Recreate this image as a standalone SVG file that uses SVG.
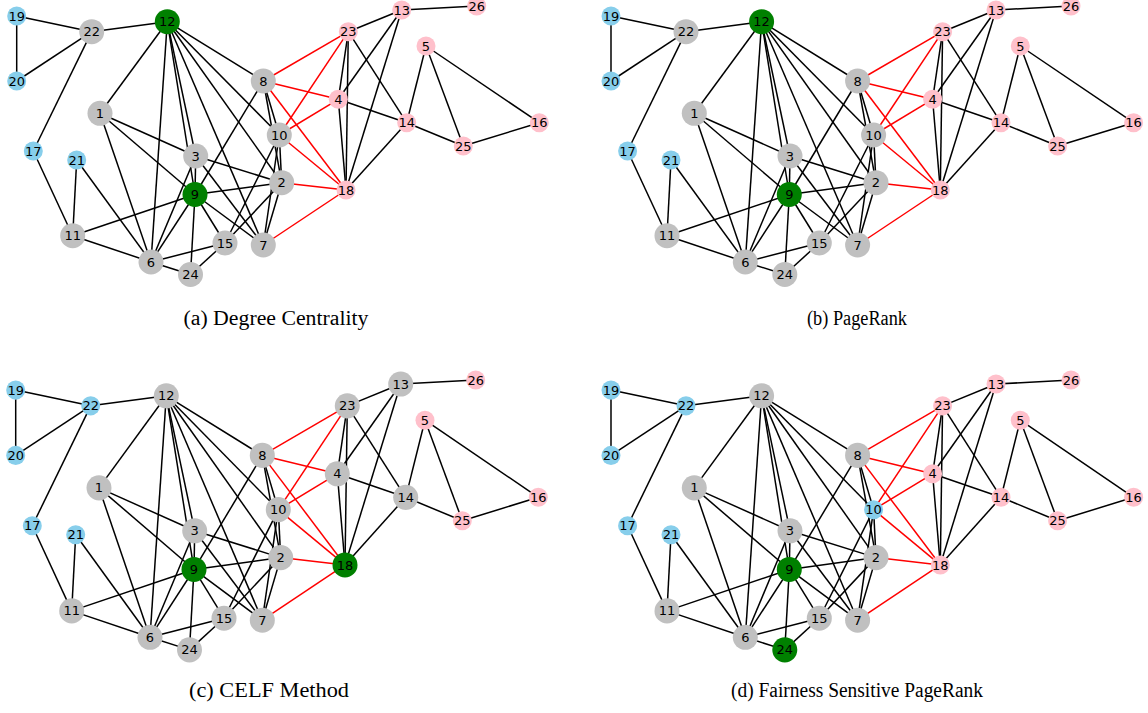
<svg xmlns="http://www.w3.org/2000/svg" width="1148" height="713" viewBox="0 0 1148 713">
<style>
#edgeset line{stroke:#000;stroke-width:1.5;fill:none}
#edgeset line.r{stroke:#ff0000}
.g{fill:#c0c0c0}.gr{fill:#008000}.b{fill:#87ceeb}.p{fill:#ffc0cb}
.n text{font-family:"DejaVu Sans",sans-serif;font-size:13px;fill:#000;text-anchor:middle}
.cap{font-family:"Liberation Serif",serif;font-size:20px;fill:#000;text-anchor:middle}
</style>
<rect width="1148" height="713" fill="#fff"/>
<defs>
<g id="edgeset">
<line x1="16.7" y1="16" x2="16.7" y2="81"/>
<line x1="16.7" y1="16" x2="91.7" y2="31.7"/>
<line x1="16.7" y1="81" x2="91.7" y2="31.7"/>
<line x1="91.7" y1="31.7" x2="167.3" y2="21.7"/>
<line x1="91.7" y1="31.7" x2="33.3" y2="151"/>
<line x1="33.3" y1="151" x2="72.7" y2="235.7"/>
<line x1="76.7" y1="160" x2="72.7" y2="235.7"/>
<line x1="76.7" y1="160" x2="151" y2="262"/>
<line x1="167.3" y1="21.7" x2="100" y2="113.3"/>
<line x1="167.3" y1="21.7" x2="151" y2="262"/>
<line x1="167.3" y1="21.7" x2="195.7" y2="156"/>
<line x1="167.3" y1="21.7" x2="195" y2="194.5"/>
<line x1="167.3" y1="21.7" x2="263.3" y2="245"/>
<line x1="167.3" y1="21.7" x2="281.7" y2="182.7"/>
<line x1="167.3" y1="21.7" x2="279.3" y2="135"/>
<line x1="167.3" y1="21.7" x2="263.3" y2="81"/>
<line x1="100" y1="113.3" x2="195.7" y2="156"/>
<line x1="100" y1="113.3" x2="195" y2="194.5"/>
<line x1="100" y1="113.3" x2="151" y2="262"/>
<line x1="195.7" y1="156" x2="195" y2="194.5"/>
<line x1="195.7" y1="156" x2="281.7" y2="182.7"/>
<line x1="195.7" y1="156" x2="263.3" y2="245"/>
<line x1="195.7" y1="156" x2="151" y2="262"/>
<line x1="195" y1="194.5" x2="72.7" y2="235.7"/>
<line x1="195" y1="194.5" x2="151" y2="262"/>
<line x1="195" y1="194.5" x2="190.5" y2="274.5"/>
<line x1="195" y1="194.5" x2="225" y2="243"/>
<line x1="195" y1="194.5" x2="263.3" y2="245"/>
<line x1="195" y1="194.5" x2="281.7" y2="182.7"/>
<line x1="195" y1="194.5" x2="263.3" y2="81"/>
<line x1="72.7" y1="235.7" x2="151" y2="262"/>
<line x1="151" y1="262" x2="225" y2="243"/>
<line x1="151" y1="262" x2="190.5" y2="274.5"/>
<line x1="225" y1="243" x2="190.5" y2="274.5"/>
<line x1="225" y1="243" x2="279.3" y2="135"/>
<line x1="225" y1="243" x2="281.7" y2="182.7"/>
<line x1="263.3" y1="245" x2="281.7" y2="182.7"/>
<line x1="263.3" y1="245" x2="279.3" y2="135"/>
<line x1="281.7" y1="182.7" x2="279.3" y2="135"/>
<line x1="281.7" y1="182.7" x2="263.3" y2="81"/>
<line x1="279.3" y1="135" x2="263.3" y2="81"/>
<line x1="348.3" y1="31.7" x2="401.7" y2="10"/>
<line x1="348.3" y1="31.7" x2="338.3" y2="99.3"/>
<line x1="348.3" y1="31.7" x2="346" y2="190"/>
<line x1="348.3" y1="31.7" x2="406.7" y2="122.7"/>
<line x1="401.7" y1="10" x2="476.7" y2="6"/>
<line x1="401.7" y1="10" x2="338.3" y2="99.3"/>
<line x1="401.7" y1="10" x2="346" y2="190"/>
<line x1="338.3" y1="99.3" x2="406.7" y2="122.7"/>
<line x1="338.3" y1="99.3" x2="346" y2="190"/>
<line x1="406.7" y1="122.7" x2="346" y2="190"/>
<line x1="406.7" y1="122.7" x2="426" y2="46"/>
<line x1="406.7" y1="122.7" x2="463.3" y2="146"/>
<line x1="426" y1="46" x2="463.3" y2="146"/>
<line x1="426" y1="46" x2="539.3" y2="122.7"/>
<line x1="539.3" y1="122.7" x2="463.3" y2="146"/>
<line class="r" x1="263.3" y1="81" x2="348.3" y2="31.7"/>
<line class="r" x1="263.3" y1="81" x2="338.3" y2="99.3"/>
<line class="r" x1="263.3" y1="81" x2="346" y2="190"/>
<line class="r" x1="279.3" y1="135" x2="348.3" y2="31.7"/>
<line class="r" x1="279.3" y1="135" x2="338.3" y2="99.3"/>
<line class="r" x1="279.3" y1="135" x2="346" y2="190"/>
<line class="r" x1="281.7" y1="182.7" x2="346" y2="190"/>
<line class="r" x1="263.3" y1="245" x2="346" y2="190"/>
</g>
</defs>

<g id="panel-a">
<g id="connectors-a"><use href="#edgeset"/></g>
<g class="n">
<g id="a19"><circle class="b" cx="16.7" cy="16" r="9.5"/><text x="16.7" y="20.6">19</text></g>
<g id="a20"><circle class="b" cx="16.7" cy="81" r="9.5"/><text x="16.7" y="85.6">20</text></g>
<g id="a22"><circle class="g" cx="91.7" cy="31.7" r="12.5"/><text x="91.7" y="36.3">22</text></g>
<g id="a12"><circle class="gr" cx="167.3" cy="21.7" r="12.5"/><text x="167.3" y="26.3">12</text></g>
<g id="a1"><circle class="g" cx="100" cy="113.3" r="12.5"/><text x="100" y="117.9">1</text></g>
<g id="a17"><circle class="b" cx="33.3" cy="151" r="9.5"/><text x="33.3" y="155.6">17</text></g>
<g id="a21"><circle class="b" cx="76.7" cy="160" r="9.5"/><text x="76.7" y="164.6">21</text></g>
<g id="a3"><circle class="g" cx="195.7" cy="156" r="12.5"/><text x="195.7" y="160.6">3</text></g>
<g id="a9"><circle class="gr" cx="195" cy="194.5" r="12.5"/><text x="195" y="199.1">9</text></g>
<g id="a11"><circle class="g" cx="72.7" cy="235.7" r="12.5"/><text x="72.7" y="240.3">11</text></g>
<g id="a6"><circle class="g" cx="151" cy="262" r="12.5"/><text x="151" y="266.6">6</text></g>
<g id="a24"><circle class="g" cx="190.5" cy="274.5" r="12.5"/><text x="190.5" y="279.1">24</text></g>
<g id="a15"><circle class="g" cx="225" cy="243" r="12.5"/><text x="225" y="247.6">15</text></g>
<g id="a7"><circle class="g" cx="263.3" cy="245" r="12.5"/><text x="263.3" y="249.6">7</text></g>
<g id="a2"><circle class="g" cx="281.7" cy="182.7" r="12.5"/><text x="281.7" y="187.3">2</text></g>
<g id="a10"><circle class="g" cx="279.3" cy="135" r="12.5"/><text x="279.3" y="139.6">10</text></g>
<g id="a8"><circle class="g" cx="263.3" cy="81" r="12.5"/><text x="263.3" y="85.6">8</text></g>
<g id="a23"><circle class="p" cx="348.3" cy="31.7" r="9.5"/><text x="348.3" y="36.3">23</text></g>
<g id="a13"><circle class="p" cx="401.7" cy="10" r="9.5"/><text x="401.7" y="14.6">13</text></g>
<g id="a26"><circle class="p" cx="476.7" cy="6" r="9.5"/><text x="476.7" y="10.6">26</text></g>
<g id="a5"><circle class="p" cx="426" cy="46" r="9.5"/><text x="426" y="50.6">5</text></g>
<g id="a4"><circle class="p" cx="338.3" cy="99.3" r="9.5"/><text x="338.3" y="103.9">4</text></g>
<g id="a14"><circle class="p" cx="406.7" cy="122.7" r="9.5"/><text x="406.7" y="127.3">14</text></g>
<g id="a16"><circle class="p" cx="539.3" cy="122.7" r="9.5"/><text x="539.3" y="127.3">16</text></g>
<g id="a25"><circle class="p" cx="463.3" cy="146" r="9.5"/><text x="463.3" y="150.6">25</text></g>
<g id="a18"><circle class="p" cx="346" cy="190" r="9.5"/><text x="346" y="194.6">18</text></g>
</g>
</g>

<g id="panel-b" transform="translate(594.3,0)">
<g id="connectors-b"><use href="#edgeset"/></g>
<g class="n">
<g id="b19"><circle class="b" cx="16.7" cy="16" r="9.5"/><text x="16.7" y="20.6">19</text></g>
<g id="b20"><circle class="b" cx="16.7" cy="81" r="9.5"/><text x="16.7" y="85.6">20</text></g>
<g id="b22"><circle class="g" cx="91.7" cy="31.7" r="12.5"/><text x="91.7" y="36.3">22</text></g>
<g id="b12"><circle class="gr" cx="167.3" cy="21.7" r="12.5"/><text x="167.3" y="26.3">12</text></g>
<g id="b1"><circle class="g" cx="100" cy="113.3" r="12.5"/><text x="100" y="117.9">1</text></g>
<g id="b17"><circle class="b" cx="33.3" cy="151" r="9.5"/><text x="33.3" y="155.6">17</text></g>
<g id="b21"><circle class="b" cx="76.7" cy="160" r="9.5"/><text x="76.7" y="164.6">21</text></g>
<g id="b3"><circle class="g" cx="195.7" cy="156" r="12.5"/><text x="195.7" y="160.6">3</text></g>
<g id="b9"><circle class="gr" cx="195" cy="194.5" r="12.5"/><text x="195" y="199.1">9</text></g>
<g id="b11"><circle class="g" cx="72.7" cy="235.7" r="12.5"/><text x="72.7" y="240.3">11</text></g>
<g id="b6"><circle class="g" cx="151" cy="262" r="12.5"/><text x="151" y="266.6">6</text></g>
<g id="b24"><circle class="g" cx="190.5" cy="274.5" r="12.5"/><text x="190.5" y="279.1">24</text></g>
<g id="b15"><circle class="g" cx="225" cy="243" r="12.5"/><text x="225" y="247.6">15</text></g>
<g id="b7"><circle class="g" cx="263.3" cy="245" r="12.5"/><text x="263.3" y="249.6">7</text></g>
<g id="b2"><circle class="g" cx="281.7" cy="182.7" r="12.5"/><text x="281.7" y="187.3">2</text></g>
<g id="b10"><circle class="g" cx="279.3" cy="135" r="12.5"/><text x="279.3" y="139.6">10</text></g>
<g id="b8"><circle class="g" cx="263.3" cy="81" r="12.5"/><text x="263.3" y="85.6">8</text></g>
<g id="b23"><circle class="p" cx="348.3" cy="31.7" r="9.5"/><text x="348.3" y="36.3">23</text></g>
<g id="b13"><circle class="p" cx="401.7" cy="10" r="9.5"/><text x="401.7" y="14.6">13</text></g>
<g id="b26"><circle class="p" cx="476.7" cy="6" r="9.5"/><text x="476.7" y="10.6">26</text></g>
<g id="b5"><circle class="p" cx="426" cy="46" r="9.5"/><text x="426" y="50.6">5</text></g>
<g id="b4"><circle class="p" cx="338.3" cy="99.3" r="9.5"/><text x="338.3" y="103.9">4</text></g>
<g id="b14"><circle class="p" cx="406.7" cy="122.7" r="9.5"/><text x="406.7" y="127.3">14</text></g>
<g id="b16"><circle class="p" cx="539.3" cy="122.7" r="9.5"/><text x="539.3" y="127.3">16</text></g>
<g id="b25"><circle class="p" cx="463.3" cy="146" r="9.5"/><text x="463.3" y="150.6">25</text></g>
<g id="b18"><circle class="p" cx="346" cy="190" r="9.5"/><text x="346" y="194.6">18</text></g>
</g>
</g>

<g id="panel-c" transform="translate(-1,374) scale(1,1.005)">
<g id="connectors-c"><use href="#edgeset"/></g>
<g class="n">
<g id="c19"><circle class="b" cx="16.7" cy="16" r="9.5"/><text x="16.7" y="20.6">19</text></g>
<g id="c20"><circle class="b" cx="16.7" cy="81" r="9.5"/><text x="16.7" y="85.6">20</text></g>
<g id="c22"><circle class="b" cx="91.7" cy="31.7" r="9.5"/><text x="91.7" y="36.3">22</text></g>
<g id="c12"><circle class="g" cx="167.3" cy="21.7" r="12.5"/><text x="167.3" y="26.3">12</text></g>
<g id="c1"><circle class="g" cx="100" cy="113.3" r="12.5"/><text x="100" y="117.9">1</text></g>
<g id="c17"><circle class="b" cx="33.3" cy="151" r="9.5"/><text x="33.3" y="155.6">17</text></g>
<g id="c21"><circle class="b" cx="76.7" cy="160" r="9.5"/><text x="76.7" y="164.6">21</text></g>
<g id="c3"><circle class="g" cx="195.7" cy="156" r="12.5"/><text x="195.7" y="160.6">3</text></g>
<g id="c9"><circle class="gr" cx="195" cy="194.5" r="12.5"/><text x="195" y="199.1">9</text></g>
<g id="c11"><circle class="g" cx="72.7" cy="235.7" r="12.5"/><text x="72.7" y="240.3">11</text></g>
<g id="c6"><circle class="g" cx="151" cy="262" r="12.5"/><text x="151" y="266.6">6</text></g>
<g id="c24"><circle class="g" cx="190.5" cy="274.5" r="12.5"/><text x="190.5" y="279.1">24</text></g>
<g id="c15"><circle class="g" cx="225" cy="243" r="12.5"/><text x="225" y="247.6">15</text></g>
<g id="c7"><circle class="g" cx="263.3" cy="245" r="12.5"/><text x="263.3" y="249.6">7</text></g>
<g id="c2"><circle class="g" cx="281.7" cy="182.7" r="12.5"/><text x="281.7" y="187.3">2</text></g>
<g id="c10"><circle class="g" cx="279.3" cy="135" r="12.5"/><text x="279.3" y="139.6">10</text></g>
<g id="c8"><circle class="g" cx="263.3" cy="81" r="12.5"/><text x="263.3" y="85.6">8</text></g>
<g id="c23"><circle class="g" cx="348.3" cy="31.7" r="12.5"/><text x="348.3" y="36.3">23</text></g>
<g id="c13"><circle class="g" cx="401.7" cy="10" r="12.5"/><text x="401.7" y="14.6">13</text></g>
<g id="c26"><circle class="p" cx="476.7" cy="6" r="9.5"/><text x="476.7" y="10.6">26</text></g>
<g id="c5"><circle class="p" cx="426" cy="46" r="9.5"/><text x="426" y="50.6">5</text></g>
<g id="c4"><circle class="g" cx="338.3" cy="99.3" r="12.5"/><text x="338.3" y="103.9">4</text></g>
<g id="c14"><circle class="g" cx="406.7" cy="122.7" r="12.5"/><text x="406.7" y="127.3">14</text></g>
<g id="c16"><circle class="p" cx="539.3" cy="122.7" r="9.5"/><text x="539.3" y="127.3">16</text></g>
<g id="c25"><circle class="p" cx="463.3" cy="146" r="9.5"/><text x="463.3" y="150.6">25</text></g>
<g id="c18"><circle class="gr" cx="346" cy="190" r="12.5"/><text x="346" y="194.6">18</text></g>
</g>
</g>

<g id="panel-d" transform="translate(594.3,374) scale(1,1.005)">
<g id="connectors-d"><use href="#edgeset"/></g>
<g class="n">
<g id="d19"><circle class="b" cx="16.7" cy="16" r="9.5"/><text x="16.7" y="20.6">19</text></g>
<g id="d20"><circle class="b" cx="16.7" cy="81" r="9.5"/><text x="16.7" y="85.6">20</text></g>
<g id="d22"><circle class="b" cx="91.7" cy="31.7" r="9.5"/><text x="91.7" y="36.3">22</text></g>
<g id="d12"><circle class="g" cx="167.3" cy="21.7" r="12.5"/><text x="167.3" y="26.3">12</text></g>
<g id="d1"><circle class="g" cx="100" cy="113.3" r="12.5"/><text x="100" y="117.9">1</text></g>
<g id="d17"><circle class="b" cx="33.3" cy="151" r="9.5"/><text x="33.3" y="155.6">17</text></g>
<g id="d21"><circle class="b" cx="76.7" cy="160" r="9.5"/><text x="76.7" y="164.6">21</text></g>
<g id="d3"><circle class="g" cx="195.7" cy="156" r="12.5"/><text x="195.7" y="160.6">3</text></g>
<g id="d9"><circle class="gr" cx="195" cy="194.5" r="12.5"/><text x="195" y="199.1">9</text></g>
<g id="d11"><circle class="g" cx="72.7" cy="235.7" r="12.5"/><text x="72.7" y="240.3">11</text></g>
<g id="d6"><circle class="g" cx="151" cy="262" r="12.5"/><text x="151" y="266.6">6</text></g>
<g id="d24"><circle class="gr" cx="190.5" cy="274.5" r="12.5"/><text x="190.5" y="279.1">24</text></g>
<g id="d15"><circle class="g" cx="225" cy="243" r="12.5"/><text x="225" y="247.6">15</text></g>
<g id="d7"><circle class="g" cx="263.3" cy="245" r="12.5"/><text x="263.3" y="249.6">7</text></g>
<g id="d2"><circle class="g" cx="281.7" cy="182.7" r="12.5"/><text x="281.7" y="187.3">2</text></g>
<g id="d10"><circle class="b" cx="279.3" cy="135" r="9.5"/><text x="279.3" y="139.6">10</text></g>
<g id="d8"><circle class="g" cx="263.3" cy="81" r="12.5"/><text x="263.3" y="85.6">8</text></g>
<g id="d23"><circle class="p" cx="348.3" cy="31.7" r="9.5"/><text x="348.3" y="36.3">23</text></g>
<g id="d13"><circle class="p" cx="401.7" cy="10" r="9.5"/><text x="401.7" y="14.6">13</text></g>
<g id="d26"><circle class="p" cx="476.7" cy="6" r="9.5"/><text x="476.7" y="10.6">26</text></g>
<g id="d5"><circle class="p" cx="426" cy="46" r="9.5"/><text x="426" y="50.6">5</text></g>
<g id="d4"><circle class="p" cx="338.3" cy="99.3" r="9.5"/><text x="338.3" y="103.9">4</text></g>
<g id="d14"><circle class="p" cx="406.7" cy="122.7" r="9.5"/><text x="406.7" y="127.3">14</text></g>
<g id="d16"><circle class="p" cx="539.3" cy="122.7" r="9.5"/><text x="539.3" y="127.3">16</text></g>
<g id="d25"><circle class="p" cx="463.3" cy="146" r="9.5"/><text x="463.3" y="150.6">25</text></g>
<g id="d18"><circle class="p" cx="346" cy="190" r="9.5"/><text x="346" y="194.6">18</text></g>
</g>
</g>

<g id="captions">
<text class="cap" x="276" y="325" textLength="185" lengthAdjust="spacingAndGlyphs">(a) Degree Centrality</text>
<text class="cap" x="857" y="325" textLength="100" lengthAdjust="spacingAndGlyphs">(b) PageRank</text>
<text class="cap" x="269" y="697" textLength="160" lengthAdjust="spacingAndGlyphs">(c) CELF Method</text>
<text class="cap" x="857" y="697" textLength="252" lengthAdjust="spacingAndGlyphs">(d) Fairness Sensitive PageRank</text>
</g>
</svg>
